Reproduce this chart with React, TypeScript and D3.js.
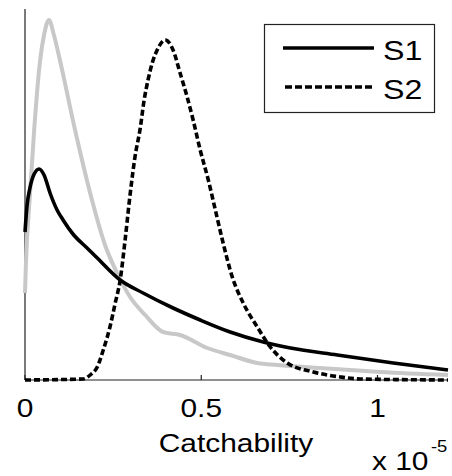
import React from "react";
import * as d3 from "d3";

// Catchability values (x 1e-5) and densities for each series
const priorX = [0, 0.003, 0.014, 0.026, 0.043, 0.054, 0.068, 0.082, 0.099, 0.142, 0.19, 0.227, 0.264, 0.298, 0.341, 0.392, 0.44, 0.517, 0.582, 0.659, 0.716, 0.838, 1.009, 1.2];
const priorY = [0.87, 1.2, 1.85, 2.5, 3.2, 3.45, 3.6, 3.45, 3.2, 2.5, 1.8, 1.35, 1.05, 0.83, 0.65, 0.48, 0.45, 0.32, 0.25, 0.17, 0.15, 0.12, 0.08, 0.05];

const s1X = [0, 0.006, 0.014, 0.026, 0.04, 0.054, 0.071, 0.091, 0.108, 0.136, 0.176, 0.205, 0.27, 0.335, 0.42, 0.497, 0.582, 0.676, 0.753, 0.886, 1.045, 1.2];
const s1Y = [1.48, 1.75, 1.92, 2.06, 2.11, 2.05, 1.87, 1.7, 1.6, 1.46, 1.32, 1.22, 1.0, 0.87, 0.72, 0.6, 0.48, 0.38, 0.32, 0.25, 0.17, 0.1];

const s2X = [0, 0.165, 0.185, 0.205, 0.222, 0.241, 0.256, 0.27, 0.284, 0.298, 0.312, 0.327, 0.338, 0.349, 0.361, 0.375, 0.398, 0.42, 0.44, 0.46, 0.477, 0.497, 0.52, 0.54, 0.56, 0.588, 0.619, 0.659, 0.696, 0.744, 0.818, 0.895, 0.952, 1.2];
const s2Y = [0, 0.01, 0.05, 0.13, 0.3, 0.53, 0.77, 1.0, 1.4, 1.85, 2.23, 2.52, 2.8, 3.0, 3.17, 3.3, 3.4, 3.3, 3.07, 2.83, 2.6, 2.3, 2.0, 1.7, 1.4, 1.03, 0.77, 0.53, 0.33, 0.17, 0.08, 0.03, 0.01, 0];

const xTicks = [0, 0.5, 1];
const xTickLabels = ["0", "0.5", "1"];
const legendLabels = ["S1", "S2"];

const W = 452;
const H = 476;
const left = 25;
const right = 448;
const top = 9;
const bottom = 380;
const FONT = "'Liberation Sans', Arial, sans-serif";
const SX = 1.15;

export default function App() {
  const x = d3.scaleLinear().domain([0, 1.2]).range([left, right]);
  const y = d3.scaleLinear().domain([0, 3.71]).range([bottom, top]);
  const line = d3
    .line<[number, number]>()
    .x((d) => x(d[0]))
    .y((d) => y(d[1]))
    .curve(d3.curveMonotoneX);
  const zip = (a: number[], b: number[]) => a.map((v, i) => [v, b[i]] as [number, number]);

  const txt = (s: string, tx: number, ty: number, size: number, anchor: string = "start") => (
    <text
      transform={`translate(${tx},${ty}) scale(${SX},1)`}
      fontFamily={FONT}
      fontSize={size}
      textAnchor={anchor}
      fill="#000"
    >
      {s}
    </text>
  );

  return (
    <svg width={W} height={H} style={{ position: "absolute", left: 0, top: 0 }}>
      <rect x={0} y={0} width={W} height={H} fill="#fff" />
      {/* axes */}
      <line x1={left} x2={left} y1={top} y2={bottom} stroke="#222" strokeWidth={1.2} />
      <line x1={left} x2={right} y1={bottom} y2={bottom} stroke="#222" strokeWidth={1.2} />
      {xTicks.map((t, i) => (
        <g key={i}>
          <line x1={x(t)} x2={x(t)} y1={bottom} y2={bottom - 5} stroke="#222" strokeWidth={1.2} />
          {txt(xTickLabels[i], x(t), 417, 26, "middle")}
        </g>
      ))}
      {/* curves */}
      <path d={line(zip(priorX, priorY)) || ""} fill="none" stroke="#c8c8c8" strokeWidth={4} strokeLinejoin="round" />
      <path d={line(zip(s1X, s1Y)) || ""} fill="none" stroke="#000" strokeWidth={3.6} strokeLinejoin="round" />
      <path d={line(zip(s2X, s2Y)) || ""} fill="none" stroke="#000" strokeWidth={3.6} strokeDasharray="6,3" />
      {/* labels */}
      {txt("Catchability", 236, 452, 26, "middle")}
      {txt("x 10", 372, 470, 26, "start")}
      {txt("-5", 431, 452, 16, "start")}
      {/* legend */}
      <rect x={264.5} y={24.5} width={170} height={88} fill="#fff" stroke="#222" strokeWidth={1.2} />
      <line x1={283} x2={374} y1={48} y2={48} stroke="#000" strokeWidth={3.6} />
      <line x1={285} x2={374} y1={87} y2={87} stroke="#000" strokeWidth={3.6} strokeDasharray="7,3" />
      {txt(legendLabels[0], 383, 60, 28, "start")}
      {txt(legendLabels[1], 383, 99, 28, "start")}
    </svg>
  );
}
